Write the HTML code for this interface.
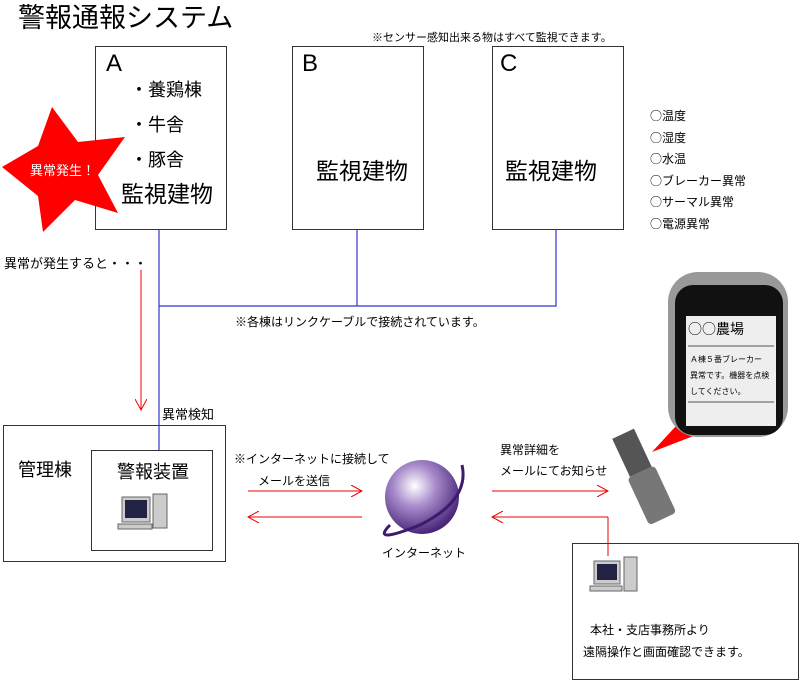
<!DOCTYPE html>
<html><head><meta charset="utf-8"><style>
body{margin:0;background:#fff;width:800px;height:681px;overflow:hidden;position:relative;font-family:"Liberation Sans","Noto Sans CJK JP",sans-serif;color:#000}
.t{position:absolute;white-space:nowrap;z-index:10}
.j{font-family:"Noto Sans CJK JP",sans-serif}
.b{position:absolute;border:1px solid #333;background:transparent;z-index:1}
</style></head><body>
<div class="t" style="left:18px;top:-4px;font-size:27px">警報通報システム</div>
<div class="t" style="left:372px;top:29px;font-size:11px">※センサー感知出来る物はすべて監視できます。</div>
<div class="b" style="left:95px;top:46px;width:130px;height:182px"></div>
<div class="b" style="left:292px;top:46px;width:130px;height:182px"></div>
<div class="b" style="left:492px;top:46px;width:130px;height:182px"></div>
<div class="b" style="left:3px;top:425px;width:221px;height:135px"></div>
<div class="b" style="left:91px;top:450px;width:120px;height:99px"></div>
<div class="b" style="left:572px;top:543px;width:225px;height:135px"></div>
<svg width="800" height="681" style="position:absolute;left:0;top:0;z-index:5">
<defs><radialGradient id="g" cx="0.4" cy="0.35" r="0.7"><stop offset="0" stop-color="#fff"/><stop offset="0.4" stop-color="#a98ccc"/><stop offset="1" stop-color="#3d1a6e"/></radialGradient>
<marker id="a" markerWidth="12" markerHeight="12" refX="11" refY="6" orient="auto" markerUnits="userSpaceOnUse"><path d="M0,0 L11,6 L0,12" fill="none" stroke="#e00" stroke-width="1"/></marker></defs>
<g stroke="#33c" stroke-width="1.2" fill="none">
<path d="M159,229V450M357,229V306M556,229V306H159"/></g>
<g stroke="#e00" stroke-width="1" fill="none">
<path d="M141,270V410" marker-end="url(#a)"/>
<path d="M248,491H362" marker-end="url(#a)"/>
<path d="M362,517H248" marker-end="url(#a)"/>
<path d="M492,491H608" marker-end="url(#a)"/>
<path d="M608,517H492" marker-end="url(#a)"/>
<path d="M608,517V556"/></g>
<circle cx="422" cy="497" r="37" fill="url(#g)"/>
<path d="M390,525 Q370,545 420,525 Q470,500 462,465" fill="none" stroke="#3d1a6e" stroke-width="3"/>
<polygon points="652,452 700,400 735,420" fill="#f00"/>
<rect x="668" y="272" width="120" height="165" rx="30" fill="#999"/>
<rect x="675" y="285" width="108" height="150" rx="18" fill="#111"/>
<rect x="686" y="316" width="90" height="110" fill="#eee"/>
<line x1="688" y1="346" x2="774" y2="346" stroke="#555"/>
<line x1="688" y1="402" x2="774" y2="402" stroke="#555"/>
<g transform="rotate(-25 640 470)"><rect x="628" y="430" width="24" height="42" fill="#555"/><rect x="625" y="472" width="30" height="52" rx="4" fill="#777"/></g>
<g fill="#ccc" stroke="#666"><rect x="122" y="497" width="28" height="25"/><rect x="153" y="494" width="14" height="34"/><rect x="118" y="524" width="34" height="5"/>
<rect x="594" y="561" width="26" height="23"/><rect x="624" y="557" width="13" height="34"/><rect x="590" y="586" width="32" height="5"/></g>
<rect x="125" y="500" width="22" height="18" fill="#224"/><rect x="597" y="564" width="20" height="16" fill="#224"/>
</svg>
<div style="position:absolute;left:0;top:100px;width:130px;height:140px;z-index:8;background:#f00;clip-path:polygon(52px 7px,78px 42px,125px 37px,98px 75px,118px 113px,75px 100px,43px 132px,38px 96px,2px 67px,38px 46px)"></div>
<div class="t" style="left:106px;top:50px;font-size:24px">A</div>
<div class="t" style="left:130px;top:76px;font-size:18px">・養鶏棟</div>
<div class="t" style="left:130px;top:111px;font-size:18px">・牛舎</div>
<div class="t" style="left:130px;top:146px;font-size:18px">・豚舎</div>
<div class="t" style="left:121px;top:175px;font-size:23px">監視建物</div>
<div class="t" style="left:30px;top:160px;font-size:13px;color:#fff">異常発生！</div>
<div class="t" style="left:302px;top:50px;font-size:24px">B</div>
<div class="t" style="left:316px;top:152px;font-size:23px">監視建物</div>
<div class="t" style="left:500px;top:50px;font-size:24px">C</div>
<div class="t" style="left:505px;top:152px;font-size:23px">監視建物</div>
<div class="t j" style="left:650px;top:105px;font-size:12px;line-height:21.5px">○温度<br>○湿度<br>○水温<br>○ブレーカー異常<br>○サーマル異常<br>○電源異常</div>
<div class="t" style="left:4px;top:253px;font-size:13px">異常が発生すると・・・</div>
<div class="t" style="left:235px;top:313px;font-size:12px">※各棟はリンクケーブルで接続されています。</div>
<div class="t" style="left:162px;top:404px;font-size:13px">異常検知</div>
<div class="t" style="left:18px;top:456px;font-size:18px">管理棟</div>
<div class="t" style="left:117px;top:458px;font-size:18px">警報装置</div>
<div class="t" style="left:234px;top:450px;font-size:12px">※インターネットに接続して</div>
<div class="t" style="left:258px;top:472px;font-size:12px">メールを送信</div>
<div class="t" style="left:382px;top:544px;font-size:12px">インターネット</div>
<div class="t" style="left:500px;top:441px;font-size:12px">異常詳細を</div>
<div class="t" style="left:500px;top:462px;font-size:12px">メールにてお知らせ</div>
<div class="t" style="left:590px;top:621px;font-size:12px">本社・支店事務所より</div>
<div class="t" style="left:583px;top:643px;font-size:12px">遠隔操作と画面確認できます。</div>
<div class="t j" style="left:688px;top:319px;font-size:14px">○○農場</div>
<div class="t" style="left:690px;top:352px;font-size:8px;line-height:16px">Ａ棟５番ブレーカー<br>異常です。機器を点検<br>してください。</div>
</body></html>
